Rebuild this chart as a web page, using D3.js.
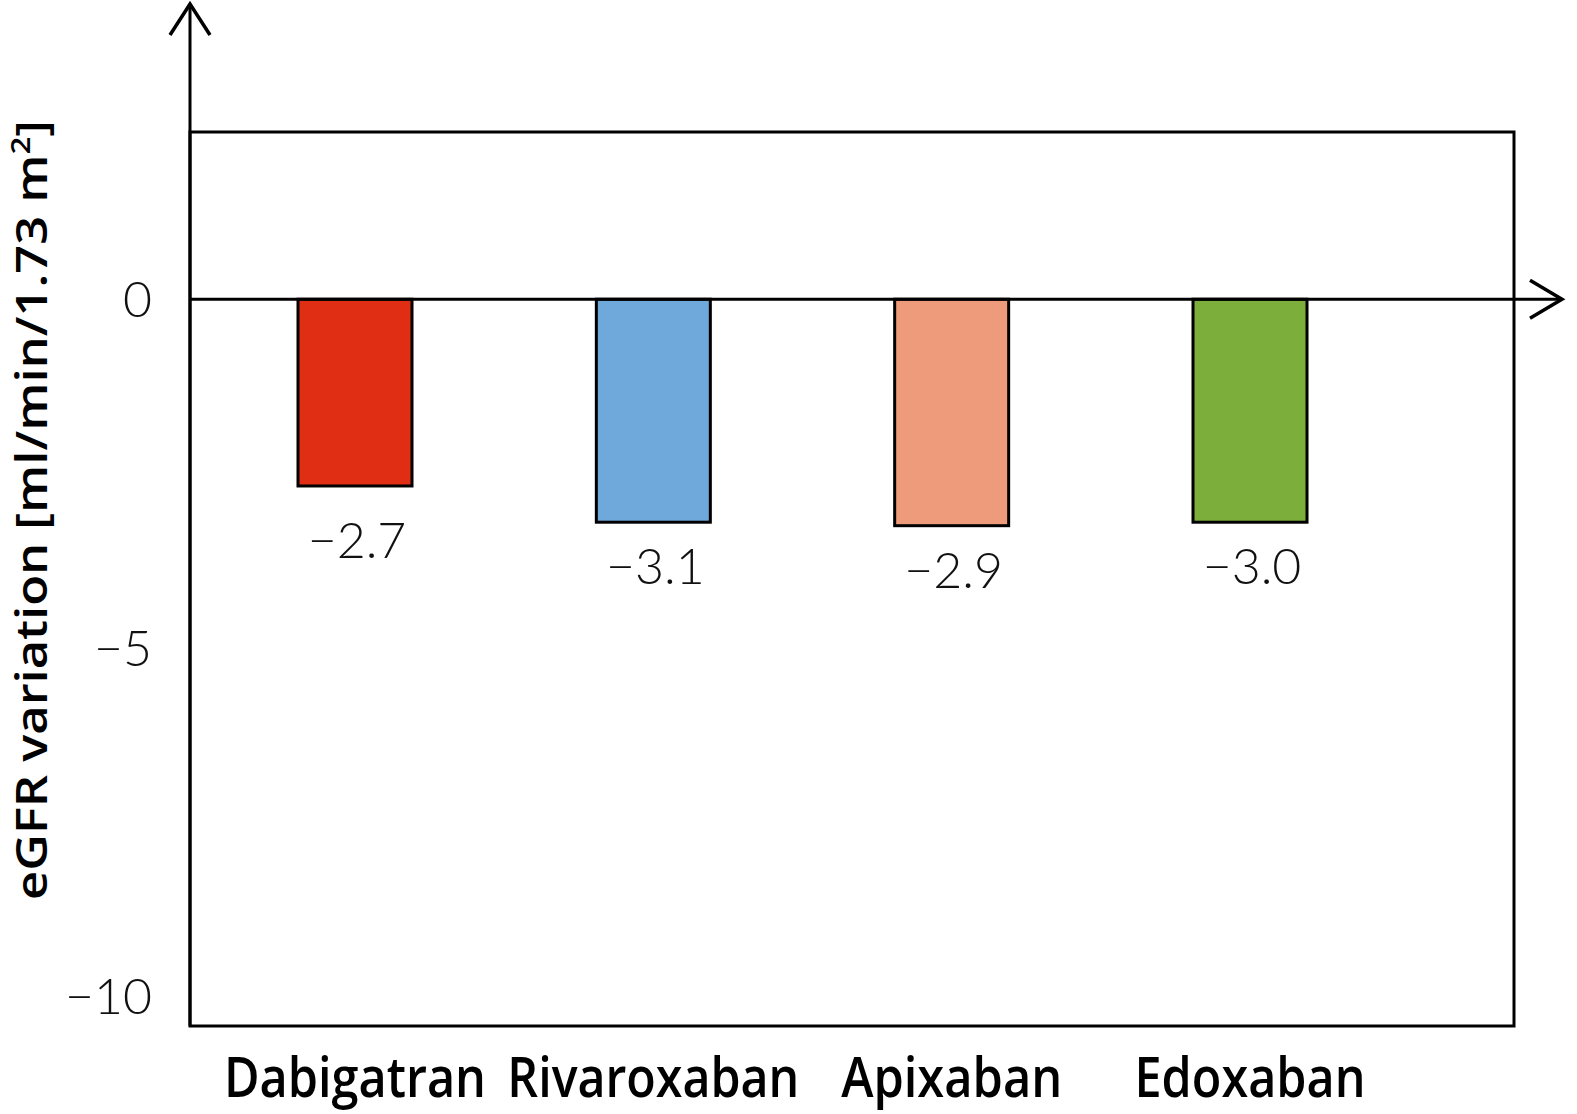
<!DOCTYPE html>
<html>
<head>
<meta charset="utf-8">
<script src="https://cdn.jsdelivr.net/npm/d3@7"></script>
<style>
  html, body { margin: 0; padding: 0; background: #fff; overflow: hidden; }
  svg { display: block; }
</style>
</head>
<body>
<svg id="chart" width="1577" height="1114" viewBox="0 0 1577 1114"></svg>
<script>
// ---- data ----
const categories = ["Dabigatran", "Rivaroxaban", "Apixaban", "Edoxaban"];
const barValues = [-2.68, -3.2, -3.25, -3.2];        // bar extents
const valueLabels = ["\u22122.7", "\u22123.1", "\u22122.9", "\u22123.0"]; // printed labels
const colors = ["#E02E14", "#6FA8DA", "#EE9B7B", "#7BAE3A"];
const yTicks = [0, -5, -10];
const yTickLabels = ["0", "\u22125", "\u221210"];

// ---- layout ----
const svg = d3.select("#chart");
const box = { left: 190, right: 1514, top: 132, bottom: 1026 };

const y = d3.scaleLinear().domain([2.4, -10.43]).range([box.top, box.bottom]);
const x = d3.scalePoint().domain(categories).range([355, 1250]);
const barW = 114;

// frame
svg.append("rect")
  .attr("x", box.left).attr("y", box.top)
  .attr("width", box.right - box.left).attr("height", box.bottom - box.top)
  .attr("fill", "none").attr("stroke", "#000").attr("stroke-width", 3);

// bars
svg.selectAll("rect.bar").data(categories).join("rect")
  .attr("class", "bar")
  .attr("x", d => x(d) - barW / 2)
  .attr("y", y(0))
  .attr("width", barW)
  .attr("height", (d, i) => y(barValues[i]) - y(0))
  .attr("fill", (d, i) => colors[i])
  .attr("stroke", "#000").attr("stroke-width", 3);

// zero axis line with arrow
svg.append("line")
  .attr("x1", box.left).attr("x2", 1562)
  .attr("y1", y(0)).attr("y2", y(0))
  .attr("stroke", "#000").attr("stroke-width", 3);
svg.append("path")
  .attr("d", `M1530,${y(0) - 19} L1562,${y(0)} L1530,${y(0) + 19}`)
  .attr("fill", "none").attr("stroke", "#000").attr("stroke-width", 3.5);

// y axis line with arrow
svg.append("line")
  .attr("x1", box.left).attr("x2", box.left)
  .attr("y1", 4).attr("y2", box.bottom)
  .attr("stroke", "#000").attr("stroke-width", 3);
svg.append("path")
  .attr("d", `M${box.left - 20},35 L${box.left},4 L${box.left + 20},35`)
  .attr("fill", "none").attr("stroke", "#000").attr("stroke-width", 3.5);

// y tick labels
svg.selectAll("text.ytick").data(yTicks).join("text")
  .attr("class", "ytick")
  .attr("x", 152)
  .attr("y", d => y(d) + 18)
  .attr("text-anchor", "end")
  .attr("font-family", "Lato, 'Open Sans', sans-serif")
  .attr("font-weight", 300)
  .attr("font-size", 50)
  .attr("fill", "#111")
  .text((d, i) => yTickLabels[i]);

// value labels
svg.selectAll("text.vlab").data(categories).join("text")
  .attr("class", "vlab")
  .attr("x", d => x(d) + 2)
  .attr("y", (d, i) => y(barValues[i]) + (i === 0 ? 72 : 62))
  .attr("text-anchor", "middle")
  .attr("font-family", "Lato, 'Open Sans', sans-serif")
  .attr("font-weight", 300)
  .attr("font-size", 50)
  .attr("fill", "#111")
  .text((d, i) => valueLabels[i]);

// category labels
const catWidths = [262, 292, 221, 231];
svg.selectAll("text.cat").data(categories).join("text")
  .attr("class", "cat")
  .attr("x", d => x(d))
  .attr("y", 1097)
  .attr("text-anchor", "middle")
  .attr("font-family", "'Open Sans', 'Noto Sans', sans-serif")
  .attr("font-weight", 600)
  .attr("font-size", 56)
  .attr("textLength", (d, i) => catWidths[i])
  .attr("lengthAdjust", "spacingAndGlyphs")
  .attr("fill", "#000")
  .text(d => d);

// y axis title
const title = svg.append("text")
  .attr("transform", `translate(47,510) rotate(-90)`)
  .attr("text-anchor", "middle")
  .attr("font-family", "'Open Sans', 'Noto Sans', sans-serif")
  .attr("font-weight", 600)
  .attr("font-size", 44)
  .attr("fill", "#000")
  .attr("textLength", 780)
  .attr("lengthAdjust", "spacingAndGlyphs");
title.append("tspan").text("eGFR variation [ml/min/1.73 m");
title.append("tspan").attr("font-size", 27).attr("dy", -17).text("2");
title.append("tspan").attr("dy", 17).text("]");
</script>
</body>
</html>
